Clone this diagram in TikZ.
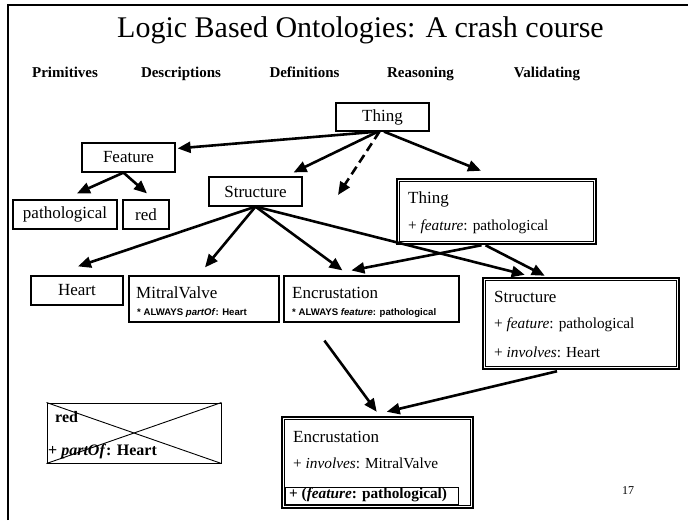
\documentclass[tikz,border=0pt]{standalone}
\usepackage{fontspec}
\setmainfont{Liberation Serif}
\newfontfamily\arialf{Liberation Sans}
\usetikzlibrary{arrows.meta,calc}
\begin{document}
\begin{tikzpicture}[x=1pt,y=-1pt,
  box/.style={draw, line width=1.2pt, inner sep=0pt, font=\fontsize{17}{20}\selectfont},
  dbox/.style={draw, line width=2.5pt, inner sep=0pt},
  inner/.style={line width=0.8pt},
  lbl/.style={anchor=base west, inner sep=0pt, font=\fontsize{17}{20}\selectfont},
  attr/.style={anchor=base west, inner sep=0pt, font=\fontsize{15.3}{18}\selectfont},
  battr/.style={anchor=base west, inner sep=0pt, font=\bfseries\fontsize{15.3}{18}\selectfont},
  small/.style={anchor=base west, inner sep=0pt, font=\arialf\bfseries\fontsize{9.6}{11}\selectfont},
  head/.style={anchor=base, inner sep=0pt, font=\bfseries\fontsize{15}{18}\selectfont},
  arr/.style={line width=2.6pt, -{Triangle[length=13pt,width=11pt]}},
]
\useasboundingbox (0,0) rectangle (688,520);
\draw[line width=1.2pt] (8,520) -- (8,5) -- (688,5);

% title and headings
\node[anchor=base west, inner sep=0pt, font=\fontsize{30}{34}\selectfont] (title) at (117,37) {Logic Based Ontologies: A crash course};
\node[head] (h1) at (65,77) {Primitives};
\node[head] (h2) at (181,77) {Descriptions};
\node[head] (h3) at (304.5,77) {Definitions};
\node[head] (h4) at (420.5,77) {Reasoning};
\node[head] (h5) at (547,77) {Validating};

% simple boxes
\node[box, minimum width=93pt, minimum height=28pt] (thing) at (382.5,117) {Thing};
\node[box, minimum width=93pt, minimum height=29pt] (feature) at (128.5,157.5) {Feature};
\node[box, minimum width=104pt, minimum height=29pt] (path) at (65,214.5) {pathological};
\node[box, minimum width=46pt, minimum height=29pt] (red) at (146,214.5) {red};
\node[box, minimum width=93pt, minimum height=29pt] (structure) at (255.5,191.5) {Structure};
\node[box, minimum width=92pt, minimum height=29pt] (heart) at (77,290.5) {Heart};
\node[box, minimum width=150pt, minimum height=46pt] (mitral) at (204,299) {};
\node[box, minimum width=175pt, minimum height=46pt] (encr) at (371.5,299) {};

\node[lbl] (mitralT) at (136,298) {MitralValve};
\node[small] (mitralA) at (137,315) {* ALWAYS \textit{partOf}: Heart};
\node[lbl] (encrT) at (292,298) {Encrustation};
\node[small] (encrA) at (292,315) {* ALWAYS \textit{feature}: pathological};

% double boxes
\node[dbox, minimum width=199pt, minimum height=65pt] (thingf) at (496.5,211.5) {};
\draw[inner] ([shift={(3.5,3.5)}]thingf.north west) rectangle ([shift={(-3.5,-3.5)}]thingf.south east);
\node[lbl] (thingfT) at (408,203) {Thing};
\node[attr] (thingfA) at (408,230) {+ \textit{feature}: pathological};

\node[dbox, minimum width=196pt, minimum height=91pt] (structd) at (581,323.5) {};
\draw[inner] ([shift={(3.5,3.5)}]structd.north west) rectangle ([shift={(-3.5,-3.5)}]structd.south east);
\node[lbl] (structdT) at (494,302) {Structure};
\node[attr] (structdA) at (494,328) {+ \textit{feature}: pathological};
\node[attr] (structdB) at (494,357) {+ \textit{involves}: Heart};

\node[dbox, minimum width=191pt, minimum height=91pt] (encrb) at (377.5,462.5) {};
\draw[inner] ([shift={(3.5,3.5)}]encrb.north west) rectangle ([shift={(-3.5,-3.5)}]encrb.south east);
\node[lbl] (encrbT) at (293,442) {Encrustation};
\node[attr] (encrbA) at (293,468) {+ \textit{involves}: MitralValve};
\node[draw, line width=0.8pt, minimum width=173pt, minimum height=17pt, inner sep=0pt] (featb) at (371.5,495.5) {};
\node[battr] (featbT) at (289,498) {+ (\textit{feature}: pathological)};

% crossed box
\node[draw, line width=1pt, minimum width=174pt, minimum height=60pt, inner sep=0pt] (redx) at (134,433) {};
\draw[line width=0.9pt] (redx.north west) -- (redx.south east);
\draw[line width=0.9pt] (redx.south west) -- (redx.north east);
\node[anchor=base west, inner sep=0pt, font=\bfseries\fontsize{16}{19}\selectfont] (redxT) at (55,422) {red};
\node[anchor=base west, inner sep=0pt, font=\bfseries\fontsize{16}{19}\selectfont] (redxA) at (48,455) {+ \textit{partOf}: Heart};

\node[anchor=base, inner sep=0pt, font=\fontsize{12}{14}\selectfont] (pg) at (628,494) {17};

% arrows
\coordinate (dangle) at (338,195);
\draw[arr] ([xshift=-4.5pt]thing.south) -- ([shift={(2,6)}]feature.north east);
\draw[arr] ([xshift=-4.5pt]thing.south) -- ([shift={(-9,-4)}]structure.north east);
\draw[arr, dashed, dash pattern=on 9pt off 5pt] ([xshift=-3pt]thing.south) -- (dangle);
\draw[arr] ([xshift=1.5pt]thing.south) -- ([shift={(-15.5,-7)}]thingf.north);
\draw[arr] ([xshift=-5pt]feature.south) -- ([shift={(12,-6)}]path.north);
\draw[arr] ([xshift=-5pt]feature.south) -- ([shift={(1,-6)}]red.north);
\draw[arr] (structure.south) -- ([shift={(1,-9)}]heart.north);
\draw[arr] (structure.south) -- ([shift={(1,-8)}]mitral.north);
\draw[arr] (structure.south) -- ([shift={(59,-5)}]encr.north west);
\draw[arr] (structure.south) -- ([shift={(43,-2)}]structd.north west);
\draw[arr] ([xshift=-15pt]thingf.south) -- ([shift={(68,-5)}]encr.north west);
\draw[arr] ([xshift=-11pt]thingf.south) -- ([shift={(63,-1)}]structd.north west);
\draw[arr] ([shift={(41,18)}]encr.south west) -- ([shift={(96,-4)}]encrb.north west);
\draw[arr] ([shift={(-24,1)}]structd.south) -- ([shift={(106,-4)}]encrb.north west);
\end{tikzpicture}
\end{document}
